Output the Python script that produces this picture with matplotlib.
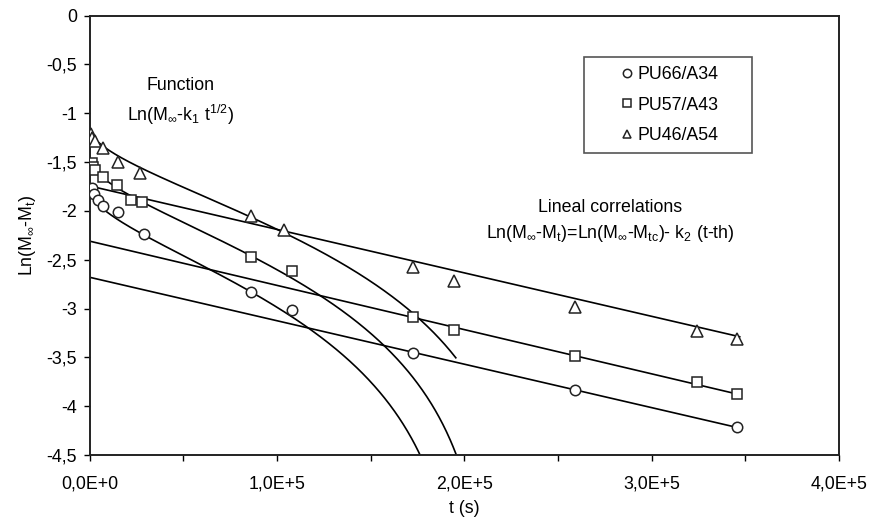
import numpy as np
import matplotlib
matplotlib.use("Agg")
import matplotlib.pyplot as plt
from matplotlib.ticker import FuncFormatter, MultipleLocator
from matplotlib.patches import Rectangle

plt.rcParams['font.family'] = ['Liberation Sans', 'DejaVu Sans']
plt.rcParams['mathtext.fontset'] = 'custom'
plt.rcParams['mathtext.rm'] = 'Liberation Sans'
plt.rcParams['mathtext.it'] = 'Liberation Sans'
plt.rcParams['mathtext.default'] = 'regular'

FS = 12.8

# ---- data ----
series_labels = ["PU66/A34", "PU57/A43", "PU46/A54"]
markers = ["o", "s", "^"]

t_pu66 = [1200, 2400, 4700, 7000, 15400, 29200, 86400, 108000, 172800, 259200, 345600]
y_pu66 = [-1.77, -1.83, -1.89, -1.95, -2.015, -2.24, -2.83, -3.015, -3.46, -3.83, -4.21]

t_pu57 = [1200, 2000, 2900, 7400, 14800, 22000, 28200, 86400, 108000, 172800, 194400, 259200, 324000, 345600]
y_pu57 = [-1.51, -1.55, -1.58, -1.65, -1.735, -1.889, -1.913, -2.47, -2.616, -3.09, -3.223, -3.483, -3.749, -3.878]

t_pu46 = [600, 1200, 2900, 7400, 15000, 26900, 86400, 104000, 172800, 194400, 259200, 324000, 345600]
y_pu46 = [-1.21, -1.25, -1.29, -1.36, -1.497, -1.616, -2.053, -2.196, -2.572, -2.718, -2.981, -3.227, -3.315]

# Function Ln(Minf - k1 t^1/2): parameters per series (PU66, PU57, PU46)
m_inf = [0.1703, 0.2319, 0.3179]
k1 = [3.79e-4, 4.99e-4, 6.51e-4]
t_func_end = [1.80e5, 1.99e5, 1.955e5]

# Lineal correlations: intercept and slope k2 per series
lin_intercept = [-2.68, -2.31, -1.745]
k2 = [4.45e-6, 4.53e-6, 4.45e-6]
t_lin_end = 3.47e5

fig = plt.figure(figsize=(8.74, 5.29), dpi=100)
ax = fig.add_axes([89.5 / 874, (529 - 455) / 529, 749.5 / 874, 439.5 / 529])

series_t = [t_pu66, t_pu57, t_pu46]
series_y = [y_pu66, y_pu57, y_pu46]

for i in range(3):
    # sqrt function curve
    tt = np.linspace(0, t_func_end[i], 400)
    arg = m_inf[i] - k1[i] * np.sqrt(tt)
    arg = np.where(arg > 0, arg, np.nan)
    ax.plot(tt, np.log(arg), color='black', lw=1.2, zorder=2)
    # linear correlation
    tl = np.array([0, t_lin_end])
    ax.plot(tl, lin_intercept[i] - k2[i] * tl, color='black', lw=1.2, zorder=2)

for i in range(3):
    ax.plot(series_t[i], series_y[i], linestyle='none', marker=markers[i],
            markersize=7.5 if markers[i] != '^' else 9, markerfacecolor='white',
            markeredgecolor='#222222', markeredgewidth=1.1, zorder=3)

ax.set_xlim(0, 4e5)
ax.set_ylim(-4.5, 0)
ax.xaxis.set_major_locator(MultipleLocator(1e5))
ax.xaxis.set_minor_locator(MultipleLocator(5e4))
ax.yaxis.set_major_locator(MultipleLocator(0.5))


def xfmt(v, pos):
    if abs(v) < 1:
        return "0,0E+0"
    return ("%.1fE+5" % (v / 1e5)).replace('.', ',')


def yfmt(v, pos):
    if abs(v) < 1e-9:
        return "0"
    return ("%g" % v).replace('.', ',')


ax.xaxis.set_major_formatter(FuncFormatter(xfmt))
ax.yaxis.set_major_formatter(FuncFormatter(yfmt))
ax.tick_params(axis='x', which='major', direction='out', length=4, width=1, pad=11, labelsize=FS)
ax.tick_params(axis='x', which='minor', direction='out', length=4, width=1)
ax.tick_params(axis='y', which='major', direction='out', length=4, width=1, pad=5, labelsize=FS)

for sp in ax.spines.values():
    sp.set_linewidth(1.4)
    sp.set_color('#222222')

ax.set_xlabel("t (s)", fontsize=FS, labelpad=5)
ax.set_ylabel("Ln(M$_{\\infty}$-M$_t$)", fontsize=FS, labelpad=6)

ax.annotate("Function", xy=(180 / 874, 1 - 86 / 529), xycoords='figure fraction',
            ha='center', va='center', fontsize=FS)
ax.annotate("Ln(M$_{\\infty}$-k$_1$ t$^{1/2}$)", xy=(181 / 874, 1 - 115 / 529), xycoords='figure fraction',
            ha='center', va='center', fontsize=FS)
ax.annotate("Lineal correlations", xy=(610 / 874, 1 - 207 / 529), xycoords='figure fraction',
            ha='center', va='center', fontsize=FS)
ax.annotate("Ln(M$_{\\infty}$-M$_t$)=Ln(M$_{\\infty}$-M$_{tc}$)- k$_2$ (t-th)", xy=(610 / 874, 1 - 233 / 529),
            xycoords='figure fraction', ha='center', va='center', fontsize=FS)

# legend
leg_handles = []
for i in range(3):
    h, = ax.plot([], [], linestyle='none', marker=markers[i], markersize=6,
                 markerfacecolor='white', markeredgecolor='#222222', markeredgewidth=1.1)
    leg_handles.append(h)
leg = ax.legend(leg_handles, series_labels, loc='center',
                bbox_to_anchor=((670 - 89.5) / 749.5, 1 - (105 - 15.5) / 439.5),
                frameon=False, fontsize=FS, handlelength=0.6, handletextpad=0.3,
                labelspacing=0.75, borderpad=0.2)
ax.add_patch(Rectangle(((584 - 89.5) / 749.5, 1 - (153 - 15.5) / 439.5), 168 / 749.5, 96 / 439.5,
                       transform=ax.transAxes, fill=False, edgecolor='#555555', lw=1.2, zorder=5))

fig.savefig("out.png", dpi=100)
